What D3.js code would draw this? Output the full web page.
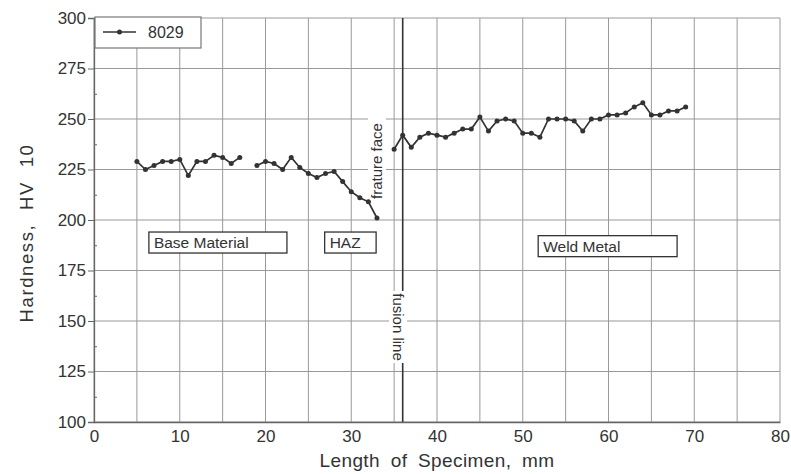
<!DOCTYPE html>
<html>
<head>
<meta charset="utf-8">
<script src="https://cdn.jsdelivr.net/npm/d3@7"></script>
<style>
  body { margin: 0; background: #fff; }
  text { font-family: "Liberation Sans", Arial, sans-serif; fill: #333; }
</style>
</head>
<body>
<div class="chartWrap"></div>
<script>
var width = 791,
  height = 474,
  margin = {top: 18, right: 11, bottom: 52, left: 94},
  ink = '#333',
  gridColor = '#999';

// hardness readings, mm along specimen
var baseX = [5, 6, 7, 8, 9, 10, 11, 12, 13, 14, 15, 16, 17],
  baseHV = [229, 225, 227, 229, 229, 230, 222, 229, 229, 232, 231, 228, 231];

var hazX = [19, 20, 21, 22, 23, 24, 25, 26, 27, 28, 29, 30, 31, 32, 33],
  hazHV = [227, 229, 228, 225, 231, 226, 223, 221, 223, 224, 219, 214, 211, 209, 201];

var weldX = [35, 36, 37, 38, 39, 40, 41, 42, 43, 44, 45, 46, 47, 48, 49, 50, 51, 52,
    53, 54, 55, 56, 57, 58, 59, 60, 61, 62, 63, 64, 65, 66, 67, 68, 69],
  weldHV = [235, 242, 236, 241, 243, 242, 241, 243, 245, 245, 251, 244, 249, 250, 249, 243, 243, 241,
    250, 250, 250, 249, 244, 250, 250, 252, 252, 253, 256, 258, 252, 252, 254, 254, 256];

var xTicks = [0, 10, 20, 30, 40, 50, 60, 70, 80],
  yTicks = [100, 125, 150, 175, 200, 225, 250, 275, 300],
  xGrid = d3.range(0, 81, 5),
  yMinor = [112.5, 137.5, 162.5, 187.5, 212.5, 237.5, 262.5, 287.5];

var fractureAt = 36;

var zones = [
  {name: 'Base Material', x0: 6.4, x1: 22.5, y: 188.6},
  {name: 'HAZ', x0: 26.9, x1: 32.9, y: 188.6},
  {name: 'Weld Metal', x0: 51.8, x1: 68.0, y: 186.8}
];

var segments = [
  baseX.map(function(d, i){ return [d, baseHV[i]]; }),
  hazX.map(function(d, i){ return [d, hazHV[i]]; }),
  weldX.map(function(d, i){ return [d, weldHV[i]]; })
];

var svg = d3.select('.chartWrap')
  .append('svg')
  .attr('width', width)
  .attr('height', height);

var x = d3.scaleLinear().domain([0, 80]).range([margin.left, width - margin.right]);
var y = d3.scaleLinear().domain([100, 300]).range([height - margin.bottom, margin.top]);

//grid
svg.append('g').selectAll('line')
  .data(xGrid)
  .enter()
    .append('line')
    .attr('x1', function(d){ return x(d); })
    .attr('x2', function(d){ return x(d); })
    .attr('y1', y(100))
    .attr('y2', y(300))
    .style('stroke', gridColor)
    .style('stroke-width', 1);

svg.append('g').selectAll('line')
  .data(yTicks)
  .enter()
    .append('line')
    .attr('x1', x(0))
    .attr('x2', x(80))
    .attr('y1', function(d){ return y(d); })
    .attr('y2', function(d){ return y(d); })
    .style('stroke', gridColor)
    .style('stroke-width', 1);

//fracture face line
svg.append('line')
  .attr('x1', x(fractureAt))
  .attr('x2', x(fractureAt))
  .attr('y1', y(100))
  .attr('y2', y(300))
  .style('stroke', ink)
  .style('stroke-width', 1.6);

//axes
var yAxis = svg.append('g')
  .attr('transform', 'translate(' + x(0) + ',0)')
  .call(d3.axisLeft(y).tickValues(yTicks).tickSize(6).tickPadding(2));

svg.append('g')
  .attr('transform', 'translate(' + x(0) + ',0)')
  .call(d3.axisRight(y).tickValues(yMinor).tickSize(3).tickFormat(''))
  .call(function(g){ g.select('.domain').remove(); });

var xAxis = svg.append('g')
  .attr('transform', 'translate(0,' + y(100) + ')')
  .call(d3.axisBottom(x).tickValues(xTicks).tickSize(0).tickPadding(8));

[yAxis, xAxis].forEach(function(g){
  g.select('.domain').style('stroke', '#666').style('stroke-width', 1.3);
  g.selectAll('text')
    .style('font-size', '17px')
    .style('fill', ink)
    .style('font-family', '"Liberation Sans", Arial, sans-serif');
});
svg.selectAll('.tick line').style('stroke', '#666');

//axis titles
svg.append('text')
  .attr('x', x(40))
  .attr('y', 467)
  .attr('text-anchor', 'middle')
  .style('font-size', '19px')
  .style('letter-spacing', '0.4px')
  .style('word-spacing', '5px')
  .text('Length of Specimen, mm');

svg.append('text')
  .attr('transform', 'translate(33,' + 233 + ') rotate(-90)')
  .attr('text-anchor', 'middle')
  .style('font-size', '18.5px')
  .style('letter-spacing', '1.6px')
  .style('word-spacing', '7px')
  .text('Hardness, HV 10');

//vertical notes with white backing
var notes = [
  {label: 'frature face', cx: 377, cy: 161, rot: -90, w: 88},
  {label: 'fusion line', cx: 398, cy: 327, rot: 90, w: 72}
];
notes.forEach(function(d){
  var g = svg.append('g')
    .attr('transform', 'translate(' + d.cx + ',' + d.cy + ') rotate(' + d.rot + ')');
  g.append('rect')
    .attr('x', -d.w / 2)
    .attr('y', -9)
    .attr('width', d.w)
    .attr('height', 18)
    .style('fill', '#fff');
  g.append('text')
    .attr('text-anchor', 'middle')
    .attr('dy', '0.35em')
    .style('font-size', '15px')
    .text(d.label);
});

//zone labels
var zoneG = svg.selectAll('.zone')
  .data(zones)
  .enter()
    .append('g')
    .attr('class', 'zone');
zoneG.append('rect')
  .attr('x', function(d){ return x(d.x0); })
  .attr('y', function(d){ return y(d.y) - 11; })
  .attr('width', function(d){ return x(d.x1) - x(d.x0); })
  .attr('height', 21)
  .style('fill', '#fff')
  .style('stroke', ink)
  .style('stroke-width', 1.3);
zoneG.append('text')
  .attr('x', function(d){ return x(d.x0) + 5; })
  .attr('y', function(d){ return y(d.y); })
  .attr('dy', '0.33em')
  .style('font-size', '15.5px')
  .text(function(d){ return d.name; });

//data lines
var line = d3.line()
  .x(function(d){ return x(d[0]); })
  .y(function(d){ return y(d[1]); });

svg.selectAll('.seg')
  .data(segments)
  .enter()
    .append('path')
    .attr('class', 'seg')
    .attr('d', line)
    .style('fill', 'none')
    .style('stroke', ink)
    .style('stroke-width', 1.7);

svg.selectAll('.pt')
  .data(d3.merge(segments))
  .enter()
    .append('circle')
    .attr('class', 'pt')
    .attr('cx', function(d){ return x(d[0]); })
    .attr('cy', function(d){ return y(d[1]); })
    .attr('r', 2.5)
    .style('fill', ink);

//legend
var legend = svg.append('g');
legend.append('rect')
  .attr('x', x(0) + 1)
  .attr('y', y(300) - 1)
  .attr('width', 106)
  .attr('height', 31)
  .style('fill', '#fff')
  .style('stroke', '#777')
  .style('stroke-width', 1.2);
legend.append('line')
  .attr('x1', 103)
  .attr('x2', 136)
  .attr('y1', 32)
  .attr('y2', 32)
  .style('stroke', ink)
  .style('stroke-width', 1.6);
legend.append('circle')
  .attr('cx', 119.5)
  .attr('cy', 32)
  .attr('r', 2.5)
  .style('fill', ink);
legend.append('text')
  .attr('x', 148)
  .attr('y', 32)
  .attr('dy', '0.36em')
  .style('font-size', '16px')
  .text('8029');
</script>
</body>
</html>
